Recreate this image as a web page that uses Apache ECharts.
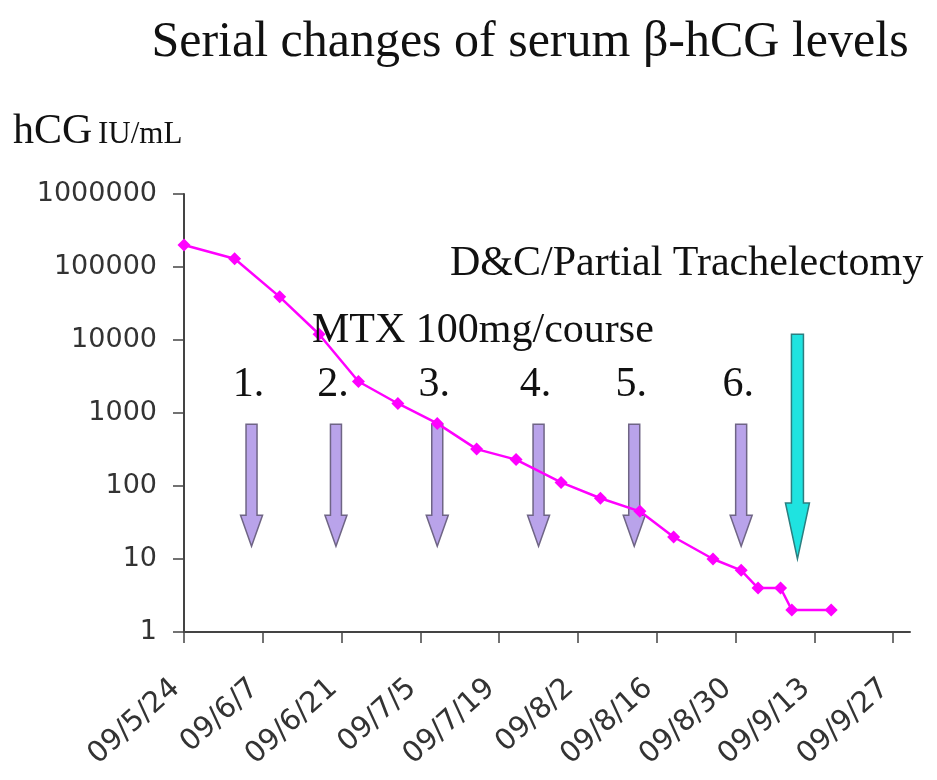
<!DOCTYPE html>
<html>
<head>
<meta charset="utf-8">
<script src="https://cdn.jsdelivr.net/npm/echarts@6/dist/echarts.min.js"></script>
<style>
  html, body { margin: 0; padding: 0; background: #fff; }
  #chart { width: 937px; height: 780px; }
</style>
</head>
<body>
<div id="chart"></div>
<script>
const startDate = '2009-05-24'
const sampleDates = ['2009-05-24', '2009-06-02', '2009-06-10', '2009-06-17', '2009-06-24', '2009-07-01',
  '2009-07-08', '2009-07-15', '2009-07-22', '2009-07-30', '2009-08-06', '2009-08-13', '2009-08-19',
  '2009-08-26', '2009-08-31', '2009-09-03', '2009-09-07', '2009-09-09', '2009-09-16']
const hcgValues = [200000, 130000, 39000, 12000, 2700, 1350, 720, 320, 230, 112, 68, 45, 20, 10, 7, 4, 4, 2, 2]

const tickDays = [0, 14, 28, 42, 56, 70, 84, 98, 112, 126]
const tickLabels = ['09/5/24', '09/6/7', '09/6/21', '09/7/5', '09/7/19', '09/8/2', '09/8/16', '09/8/30', '09/9/13', '09/9/27']

// MTX courses (purple arrows) and surgery (cyan arrow)
const mtxDates = ['2009-06-05', '2009-06-20', '2009-07-08', '2009-07-26', '2009-08-12', '2009-08-31']
const mtxLabels = ['1.', '2.', '3.', '4.', '5.', '6.']
const mtxTop = 700
const mtxTip = 15
const surgeryDate = '2009-09-10'
const surgeryTop = 12000
const surgeryTip = 10

function dayOf(s) {
  return (Date.parse(s) - Date.parse(startDate)) / 86400000
}

const lineData = sampleDates.map((d, i) => [dayOf(d), hcgValues[i]])
const arrowData = mtxDates.map(d => [dayOf(d), mtxTop, mtxTip, 0])
arrowData.push([dayOf(surgeryDate), surgeryTop, surgeryTip, 1])

const serif = '"Liberation Serif", "Times New Roman", serif'
const sans = '"DejaVu Sans", sans-serif'

function renderArrow(params, api) {
  const top = api.coord([api.value(0), api.value(1)])
  const tip = api.coord([api.value(0), api.value(2)])
  const cyan = api.value(3) === 1
  const shaftW = cyan ? 12 : 11
  const headW = cyan ? 24 : 22
  const headL = cyan ? 56 : 31
  const x = top[0]
  const yHead = tip[1] - headL
  const points = [
    [x - shaftW / 2, top[1]], [x + shaftW / 2, top[1]], [x + shaftW / 2, yHead],
    [x + headW / 2, yHead], [x, tip[1]], [x - headW / 2, yHead], [x - shaftW / 2, yHead]
  ]
  const children = [{
    type: 'polygon',
    shape: { points },
    style: {
      fill: cyan ? '#1fe3e0' : '#b9a3ea',
      stroke: cyan ? '#2b7f80' : '#6f6585',
      lineWidth: 1.5
    }
  }]
  if (!cyan) {
    children.push({
      type: 'text',
      x: x - 3,
      y: top[1] - 39,
      style: {
        text: mtxLabels[params.dataIndex],
        fontSize: 42,
        fontFamily: serif,
        fill: '#111',
        align: 'center',
        verticalAlign: 'middle'
      }
    })
  }
  return { type: 'group', children }
}

const chart = echarts.init(document.getElementById('chart'))
chart.setOption({
  backgroundColor: '#fff',
  animation: false,
  grid: { left: 184, right: 27, top: 194, bottom: 148, outerBoundsMode: 'none' },
  xAxis: {
    type: 'value',
    min: 0,
    max: 129,
    splitLine: { show: false },
    axisLine: { show: true, lineStyle: { color: '#444', width: 2 } },
    axisTick: { show: true, length: 11, customValues: tickDays, lineStyle: { color: '#444', width: 1.5 } },
    axisLabel: {
      customValues: tickDays,
      rotate: 42,
      margin: 45,
      padding: [0, 11, 0, 0],
      fontSize: 29,
      fontFamily: sans,
      color: '#333',
      formatter: v => tickLabels[tickDays.indexOf(v)] || ''
    }
  },
  yAxis: {
    type: 'log',
    logBase: 10,
    min: 1,
    max: 1000000,
    splitLine: { show: false },
    minorTick: { show: false },
    axisLine: { show: true, lineStyle: { color: '#444', width: 2 } },
    axisTick: { show: true, length: 11, lineStyle: { color: '#444', width: 1.5 } },
    axisLabel: {
      margin: 27,
      fontSize: 27,
      fontFamily: sans,
      color: '#333',
      formatter: v => String(Math.round(v))
    }
  },
  series: [
    {
      type: 'custom',
      renderItem: renderArrow,
      data: arrowData,
      clip: false,
      z: 2,
      silent: true
    },
    {
      type: 'line',
      data: lineData,
      symbol: 'diamond',
      symbolSize: 13,
      lineStyle: { color: '#ff00ff', width: 2.5 },
      itemStyle: { color: '#ff00ff' },
      z: 3
    }
  ],
  graphic: [
    {
      type: 'text', x: 530, y: 43, z: 10,
      style: { text: 'Serial changes of serum β-hCG levels', fontSize: 50, fontFamily: serif, fill: '#111', align: 'center', verticalAlign: 'middle' }
    },
    {
      type: 'text', x: 13, y: 132, z: 10,
      style: { text: 'hCG', fontSize: 42, fontFamily: serif, fill: '#111', align: 'left', verticalAlign: 'middle' }
    },
    {
      type: 'text', x: 98, y: 135, z: 10,
      style: { text: 'IU/mL', fontSize: 31, fontFamily: serif, fill: '#111', align: 'left', verticalAlign: 'middle' }
    },
    {
      type: 'text', x: 450, y: 264, z: 10,
      style: { text: 'D&C/Partial Trachelectomy', fontSize: 42, fontFamily: serif, fill: '#111', align: 'left', verticalAlign: 'middle' }
    },
    {
      type: 'text', x: 312, y: 331, z: 10,
      style: { text: 'MTX 100mg/course', fontSize: 42, fontFamily: serif, fill: '#111', align: 'left', verticalAlign: 'middle' }
    }
  ]
})
</script>
</body>
</html>
